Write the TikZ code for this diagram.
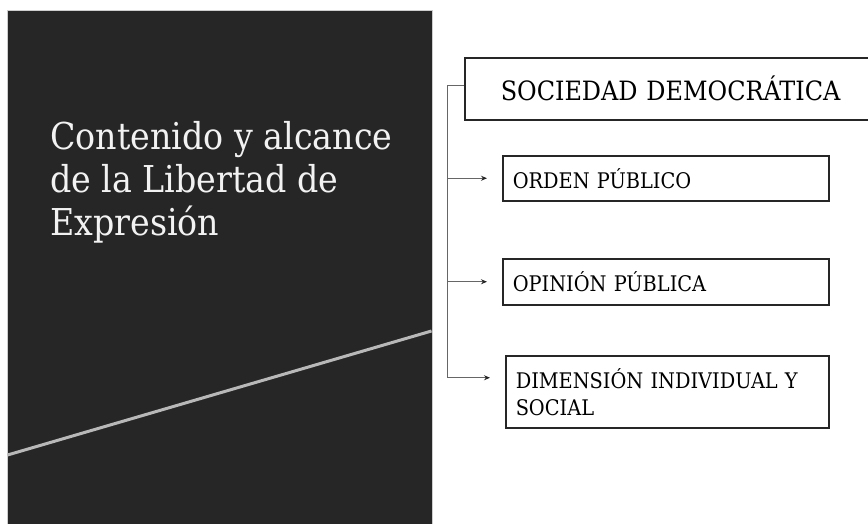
\documentclass[tikz,border=0pt]{standalone}
\usepackage{fontspec}
\setmainfont{DejaVu Serif Condensed}
\usetikzlibrary{arrows.meta}
\definecolor{slate}{HTML}{262626}
\definecolor{streak}{HTML}{B8B8B8}
\begin{document}
\begin{tikzpicture}[x=1pt,y=-1pt,
		box/.style={draw=black!85,line width=1.5pt,anchor=north west,align=left,inner xsep=10pt,font=\fontsize{21.5}{27}\selectfont},
		link/.style={draw=black!60,line width=1pt},
		tip/.style={-{Stealth[length=6pt,width=5pt,color=black!85]}}]
		\useasboundingbox (0,0) rectangle (868,523);
		\begin{scope}
		\fill[slate,draw=streak!70,line width=1pt] (7,10) rectangle (432,530);
		\draw[streak,line width=3pt] (7.5,455) -- (431.5,331);
		\node[anchor=north west,align=left,text=white!95!black,inner sep=0pt,font=\fontsize{37}{43}\selectfont] (title) at (50,121) {Contenido y alcance\\de la Libertad de\\Expresión};
		\end{scope}
		\begin{scope}
		\node[box,minimum width=430pt,minimum height=62pt,inner xsep=36pt,font=\fontsize{26.6}{30}\selectfont,text width=380pt] (soc) at (464,57) {SOCIEDAD DEMOCRÁTICA};
		\node[box,minimum width=326pt,minimum height=45pt,text width=306pt] (orden) at (502,155) {ORDEN PÚBLICO};
		\node[box,minimum width=326pt,minimum height=46pt,text width=306pt] (opinion) at (502,258) {OPINIÓN PÚBLICA};
		\node[box,minimum width=323pt,minimum height=72pt,text width=303pt] (dim) at (505,355) {DIMENSIÓN INDIVIDUAL Y\\SOCIAL};
		\coordinate (top) at (447,85);
		\coordinate (bend) at (447,377);
		\draw[link] (soc.west |- top) -- (top) -- (bend);
		\foreach \n/\dy in {orden/0,opinion/0,dim/14}
		{
			\coordinate (end) at ([yshift=\dy pt]\n.west);
			\draw[link,tip] (top |- end) -- ([xshift=-15pt]end);
		}
		\end{scope}
\end{tikzpicture}
\end{document}
